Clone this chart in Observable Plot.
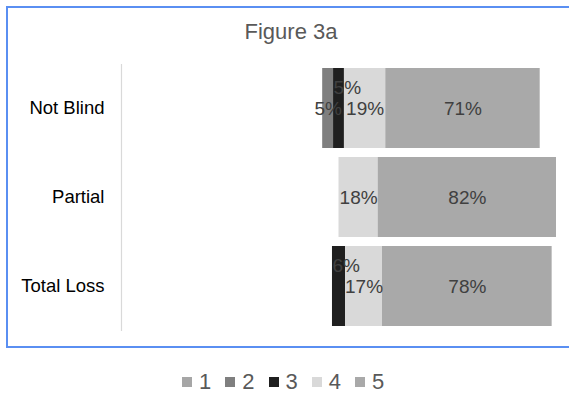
<!DOCTYPE html>
<html><head><meta charset="utf-8">
<script src="https://cdn.jsdelivr.net/npm/d3@7"></script>
<script src="https://cdn.jsdelivr.net/npm/@observablehq/plot@0.6"></script>
<style>
body{margin:0;width:569px;height:394px;overflow:hidden;background:#fff;font-family:"Liberation Sans",Arial,sans-serif;position:relative}
#box{position:absolute;left:6px;top:6px;width:620px;height:342px;border:2px solid #5a8ff2;box-sizing:border-box}
#title{position:absolute;left:0;width:582px;top:20.5px;line-height:22px;text-align:center;font-size:22px;color:#595959}
#chart{position:absolute;left:0;top:59px}
#legend{position:absolute;top:370.5px;left:182px;display:flex;align-items:center;font-size:22px;line-height:22px;color:#595959}
#legend .sw{display:inline-block;width:10px;height:10px;margin-right:7px}
#legend .lb{margin-right:14px}
</style></head>
<body>
<div id="box"></div>
<div id="title">Figure 3a</div>
<div id="chart"></div>
<div id="legend"></div>
<script>
const categories = ["Not Blind", "Partial", "Total Loss"];
const levels = ["1", "2", "3", "4", "5"];
const v1 = [0, 0, 0];
const v2 = [5, 0, 0];
const v3 = [5, 0, 6];
const v4 = [19, 18, 17];
const v5 = [71, 82, 78];
const colors = ["#a6a6a6", "#7f7f7f", "#1f1f1f", "#d9d9d9", "#a9a9a9"];

const series = [v1, v2, v3, v4, v5];
const rows = [];
categories.forEach((c, i) => {
  let pos = -(v1[i] + v2[i] + v3[i] / 2);
  series.forEach((s, k) => {
    rows.push({category: c, level: levels[k], value: s[i], x1: pos, x2: pos + s[i]});
    pos += s[i];
  });
});
const shown = rows.filter(d => d.value > 0);

const chart = Plot.plot({
  width: 569, height: 276,
  marginLeft: 121, marginRight: 13, marginTop: 0, marginBottom: 0,
  x: {domain: [-100, 100], axis: null},
  y: {domain: categories, padding: 0.1, label: null, axis: null},
  color: {domain: levels, range: colors},
  style: {fontFamily: '"Liberation Sans", Arial, sans-serif', background: "transparent", overflow: "visible"},
  marks: [
    Plot.ruleX([-100], {stroke: "#d9d9d9", strokeWidth: 1.2, insetTop: 5, insetBottom: 4}),
    Plot.barX(shown, {x1: "x1", x2: "x2", y: "category", fill: "level"}),
    Plot.text(shown.filter(d => d.level !== "3"), {x: d => (d.x1 + d.x2) / 2, y: "category", text: d => d.value + "%", fill: "#404040", fontSize: 19}),
    Plot.text(shown.filter(d => d.level === "3"), {x: "x1", y: "category", text: d => d.value + "%", fill: "#404040", fontSize: 19, textAnchor: "start", dy: -21}),
    Plot.axisY({tickSize: 0, tickPadding: 17, fontSize: 18.5, fill: "#000", label: null})
  ]
});
document.getElementById("chart").appendChild(chart);

const legend = document.getElementById("legend");
levels.forEach((l, k) => {
  const sw = document.createElement("span");
  sw.className = "sw"; sw.style.background = colors[k];
  const lb = document.createElement("span");
  lb.className = "lb"; lb.textContent = l;
  legend.appendChild(sw); legend.appendChild(lb);
});
</script>
</body></html>
